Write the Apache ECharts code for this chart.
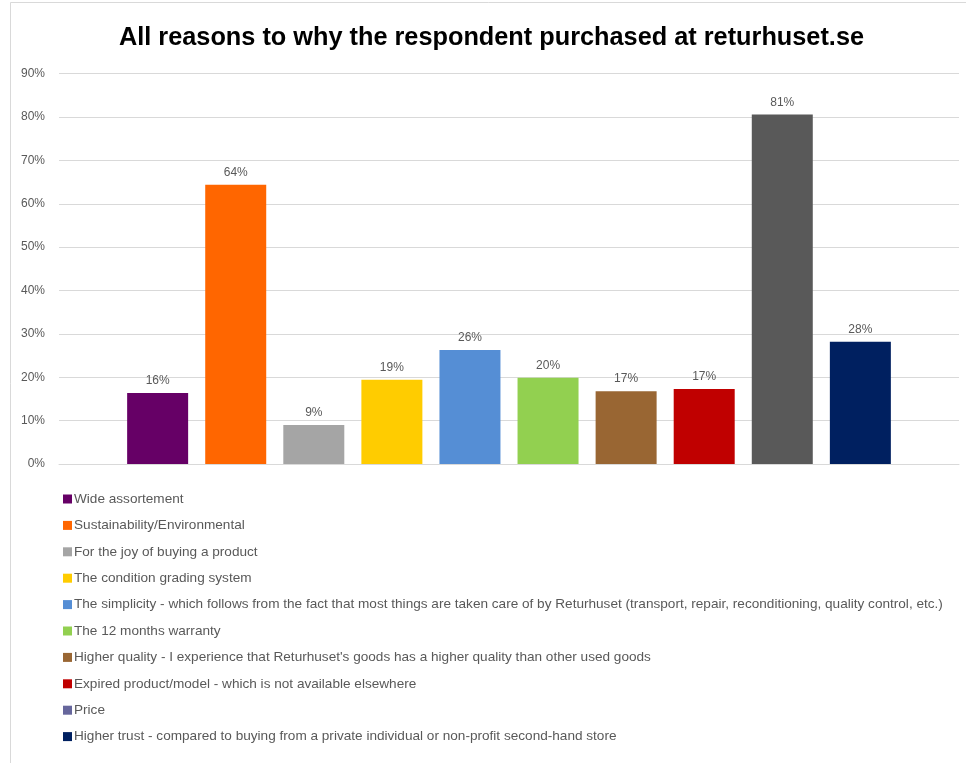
<!DOCTYPE html>
<html><head><meta charset="utf-8">
<script src="https://cdn.jsdelivr.net/npm/echarts@6/dist/echarts.min.js"></script>
<style>html,body{margin:0;padding:0;background:#fff}#c{width:966px;height:763px}</style>
</head><body><div id="c"></div>
<script>
const titleText = 'All reasons to why the respondent purchased at returhuset.se';
const reasons = [
  'Wide assortement',
  'Sustainability/Environmental',
  'For the joy of buying a product',
  'The condition grading system',
  'The simplicity - which follows from the fact that most things are taken care of by Returhuset (transport, repair, reconditioning, quality control, etc.)',
  'The 12 months warranty',
  "Higher quality - I experience that Returhuset's goods has a higher quality than other used goods",
  'Expired product/model - which is not available elsewhere',
  'Price',
  'Higher trust - compared to buying from a private individual or non-profit second-hand store'
];
const shares = [16.4, 64.4, 9.0, 19.4, 26.3, 19.9, 16.8, 17.3, 80.6, 28.2];
const barColors = ['#660066','#FF6600','#A5A5A5','#FFCC00','#558ED5','#92D050','#996633','#C00000','#595959','#002060'];
const legendColors = ['#660066','#FF6600','#A5A5A5','#FFCC00','#558ED5','#92D050','#996633','#C00000','#66669C','#002060'];
const yTicks = [0, 10, 20, 30, 40, 50, 60, 70, 80, 90];

const FONT = '"Liberation Sans", Arial, sans-serif';
const chart = echarts.init(document.getElementById('c'));
const series = reasons.map((name, i) => ({
  name: name,
  type: 'bar',
  data: [shares[i]],
  barWidth: 61,
  barGap: '28%',
  itemStyle: { color: barColors[i] },
  label: {
    show: true, position: 'top', distance: 6,
    formatter: p => Math.round(p.value) + '%',
    color: '#595959', fontSize: 12, fontFamily: FONT
  }
}));
chart.setOption({
  animation: false,
  backgroundColor: '#fff',
  graphic: [{ type: 'rect', shape: { x: 10.5, y: 2.5, width: 1000, height: 800 }, style: { fill: 'none', stroke: '#d9d9d9', lineWidth: 1 }, silent: true }],
  title: {
    text: titleText, left: 114, top: 21,
    textStyle: { fontFamily: FONT, fontSize: 25.3, fontWeight: 'bold', color: '#000' }
  },
  legend: {
    orient: 'vertical', left: 58, top: 486,
    itemWidth: 9, itemHeight: 9, itemGap: 10.4,
    icon: 'rect',
    textStyle: { fontFamily: FONT, fontSize: 13.6, color: '#595959', lineHeight: 16, padding: [0, 0, 0, -3] },
    data: reasons.map((n, i) => ({ name: n, itemStyle: { color: legendColors[i] } }))
  },
  grid: { left: 59, right: 7, top: 73.7, bottom: 299 },
  xAxis: {
    type: 'category', data: [''],
    axisLine: { lineStyle: { color: '#d9d9d9', width: 1 } },
    axisTick: { show: false }, axisLabel: { show: false }
  },
  yAxis: {
    type: 'value', min: yTicks[0], max: yTicks[yTicks.length - 1], interval: 10,
    axisLabel: { formatter: v => v + '%', color: '#595959', fontSize: 12, fontFamily: FONT, margin: 14 },
    splitLine: { lineStyle: { color: '#d9d9d9', width: 1 } },
    axisLine: { show: false }, axisTick: { show: false }
  },
  series: series
});
</script></body></html>
